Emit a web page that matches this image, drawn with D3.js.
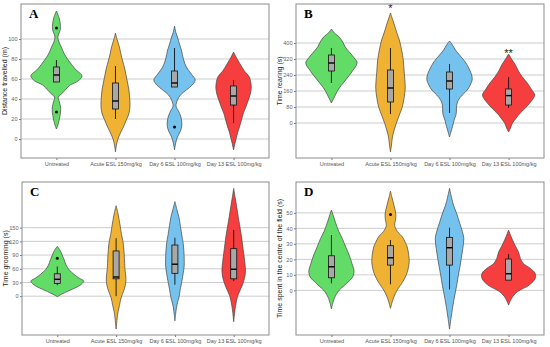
<!DOCTYPE html>
<meta charset="utf-8">
<style>
body { margin: 0; background: #fff; }
text { font-family: "Liberation Sans", Arial, sans-serif; }
.grid line { stroke: #cdcdcd; stroke-width: 1px; }
.frame { fill: none; stroke: #8c8c8c; stroke-width: 1px; }
.violin { stroke: #444; stroke-width: 0.7px; }
.box { fill: #a8a8a8; stroke: #111; stroke-width: 0.8px; }
</style>
<svg width="550" height="347"></svg>
<script src="https://d3js.org/d3.v7.min.js"></script>
<script>

var categories = ["Untreated", "Acute ESL 150mg/kg", "Day 6 ESL 100mg/kg", "Day 13 ESL 100mg/kg"];
var colors = ["#62dc66", "#f0b232", "#76c2ee", "#f63e3e"];

// violin outlines: [value, density]
var violinsA = [
  [[128,0],[120,3],[110,4],[102,1.5],[96,3],[92,5],[85,8],[79,12],[70,19],[63,26],[58,22],[54,14],[48,8],[44,4],[42,1.8],[37,3],[32,4.2],[27,4.2],[20,3],[14,1.5],[10,0]],
  [[106,0],[100,1.5],[92,4],[85,5.5],[79,7],[70,9.5],[60,11.5],[50,13.5],[40,14.5],[32,14.7],[25,13.5],[19,11],[12,8],[6,5],[0,2.5],[-6,1],[-13,0]],
  [[113,0],[106,1.5],[102,3],[95,5],[89,7],[80,9],[72,12],[65,17],[59,21],[54,18],[49,12],[44,6],[39,3],[33,1.5],[28,4],[22,6.5],[14,7.5],[8,6],[2,3],[-4,1.2],[-11,0]],
  [[87,0],[82,2.5],[76,6],[68,11],[62,16],[52,18],[45,17],[39,15],[32,12.5],[26,10],[19,8],[12,6],[6,4],[2,3],[-4,1.5],[-11,0]]
];
var violinsB = [
  [[470,0],[450,3],[430,8],[400,12],[380,14],[350,19],[320,24],[305,26],[285,25],[265,22],[250,20],[225,16],[200,12],[175,8],[150,5],[125,2.5],[100,0]],
  [[550,0],[520,2],[490,4],[450,6.5],[415,9],[360,11.5],[315,13],[250,14],[180,15],[130,14],[80,12],[40,9],[0,6],[-40,3.5],[-70,2],[-110,1],[-145,0]],
  [[410,0],[390,3],[365,6],[335,11],[305,16],[270,20],[240,22.5],[215,23],[190,21],[165,18],[140,13],[115,9],[95,7.5],[80,7],[60,7],[40,6.5],[20,5],[0,4],[-35,2],[-70,0]],
  [[345,0],[320,3],[290,7],[260,10],[230,14],[200,19],[170,23],[140,26.5],[115,24],[80,18],[60,14],[40,10],[20,7],[0,4],[-25,2],[-45,0]]
];
var violinsC = [
  [[109,0],[100,3],[90,5],[80,7],[68,9],[58,12],[47,17.5],[40,22],[33,27],[27,25],[21,21],[15,15],[10,10],[5,5],[-1,0]],
  [[198,0],[180,2],[156,4],[135,5.5],[120,7],[100,8],[83,8.5],[60,9],[40,10],[25,9.5],[10,7.5],[-4,5],[-20,3.5],[-34,2],[-50,1],[-72,0]],
  [[207,0],[190,2],[174,4],[155,5.5],[134,7],[115,8.5],[98,9.2],[80,9.5],[68,9.5],[50,8.5],[32,7],[15,5.5],[-4,4],[-15,2.5],[-26,1.5],[-40,0.7],[-54,0]],
  [[236,0],[215,1.5],[196,3],[175,4.5],[156,6],[130,8],[105,9.5],[80,11],[54,12],[35,10.5],[15,7],[0,4],[-20,2],[-35,1],[-56,0]]
];
var violinsD = [
  [[51.8,0],[48,2],[44,4],[38,7.5],[33.5,11],[28,14.5],[22.8,18],[17,21],[12,23],[8,21],[5.5,17],[2.5,12],[0.2,8],[-2.5,5],[-5,3],[-8,1.5],[-12,0]],
  [[64,0],[60,1.5],[55,3.5],[49,5.5],[45,5],[42,4.2],[38,7],[34.6,12],[31,15],[28,17],[23,18.5],[18.5,19],[14,18],[9.9,16],[5,12],[1.3,8],[-2,5],[-5,3],[-8,1.5],[-11.6,0]],
  [[65.8,0],[60,2],[55,4],[50,7],[44,10],[38,13],[33.5,14.5],[27,13.5],[20.6,12],[15,10.5],[9.9,9],[4,7.5],[-1,6],[-6,4.5],[-11.6,3],[-18,1.5],[-25,0]],
  [[38.9,0],[35.5,2],[32.5,4],[28.5,7],[24.9,10],[20.6,12],[17.4,15],[14.2,22],[11,27],[7.7,27],[3.4,21],[-0.9,9],[-5.2,3],[-9.5,0]]
];

// boxplot stats: [lower whisker, q1, median, q3, upper whisker]
var boxesA = [[57,57,64,72,79],[20,30,38,56,73],[52,52,56,68,91],[16,34,43,53,59]];
var boxesB = [[200,260,300,340,375],[45,105,175,265,375],[50,170,210,255,295],[75,90,137,170,230]];
var boxesC = [[24,28,37,49,65],[0,38,42,99,127],[25,50,70,112,128],[33,38,59,104,145]];
var boxesD = [[4.5,8.1,15.2,22.3,35.7],[3.9,16.3,21,28.8,32.5],[0.6,16.3,27.5,34.2,40.4],[6.6,6.6,10.7,20.2,23.4]];

var outliersA = [[111,27],[],[12],[]];
var outliersB = [[],[],[],[]];
var outliersC = [[83],[],[],[]];
var outliersD = [[],[49],[],[]];

var ticksA = [0,20,40,60,80,100];
var ticksB = [0,80,160,240,320,400];
var ticksC = [0,30,60,90,120,150];
var ticksD = [0,10,20,30,40,50];

var signifB = ["", "*", "", "**"];
var signifPosB = [0, 575, 0, 350];

var svg = d3.select("svg");

var panels = [
  {letter: "A", title: "Distance travelled (m)", box: [21,4,269,158], domain: [-19,135], ticks: ticksA, violins: violinsA, boxes: boxesA, outliers: outliersA},
  {letter: "B", title: "Time rearing (s)", box: [296,4,544,158], domain: [-175,595], ticks: ticksB, violins: violinsB, boxes: boxesB, outliers: outliersB, signif: signifB, signifPos: signifPosB},
  {letter: "C", title: "Time grooming (s)", box: [22,182,269,335], domain: [-85,250], ticks: ticksC, violins: violinsC, boxes: boxesC, outliers: outliersC},
  {letter: "D", title: "Time spent in the centre of the field (s)", box: [296,182,544,335], domain: [-28.8,69.9], ticks: ticksD, violins: violinsD, boxes: boxesD, outliers: outliersD}
];

panels.forEach(function(p) {
  var x0 = p.box[0], y0 = p.box[1], x1 = p.box[2], y1 = p.box[3];
  var g = svg.append("g");

  var x = d3.scalePoint().domain(categories).range([x0, x1]).padding(0.6);
  var y = d3.scaleLinear().domain(p.domain).range([y1, y0]);
  var w = d3.scaleLinear().domain([0, 30]).range([0, x.step() * 0.5]);

  // gridlines
  g.append("g").attr("class", "grid")
    .selectAll("line").data(p.ticks).enter().append("line")
      .attr("x1", x0).attr("x2", x1)
      .attr("y1", function(d) { return y(d); })
      .attr("y2", function(d) { return y(d); });

  // y axis
  var yAxis = g.append("g")
      .attr("transform", "translate(" + x0 + ",0)")
      .call(d3.axisLeft(y).tickValues(p.ticks).tickSize(2).tickPadding(1.5));
  yAxis.select(".domain").remove();
  yAxis.selectAll("line").attr("stroke", "#777");
  yAxis.selectAll("text").attr("fill", "#666").style("font-size", "5.6px");

  // x axis
  var xAxis = g.append("g")
      .attr("transform", "translate(0," + y1 + ")")
      .call(d3.axisBottom(x).tickSize(2).tickPadding(2.5));
  xAxis.select(".domain").remove();
  xAxis.selectAll("line").attr("stroke", "#777");
  xAxis.selectAll("text").attr("fill", "#555").style("font-size", "5.5px");

  var area = d3.area()
      .y(function(d) { return y(d[0]); })
      .curve(d3.curveCatmullRom);

  categories.forEach(function(c, i) {
    var cx = x(c);
    area.x0(function(d) { return cx - w(d[1]); })
        .x1(function(d) { return cx + w(d[1]); });
    g.append("path")
      .attr("class", "violin")
      .attr("d", area(p.violins[i]))
      .attr("fill", colors[i]);

    var b = p.boxes[i], bw = 3;
    g.append("line")
      .attr("x1", cx).attr("x2", cx)
      .attr("y1", y(b[0])).attr("y2", y(b[4]))
      .attr("stroke", "#111").attr("stroke-width", 0.9);
    g.append("rect")
      .attr("class", "box")
      .attr("x", cx - bw).attr("width", bw * 2)
      .attr("y", y(b[3])).attr("height", y(b[1]) - y(b[3]));
    g.append("line")
      .attr("x1", cx - bw).attr("x2", cx + bw)
      .attr("y1", y(b[2])).attr("y2", y(b[2]))
      .attr("stroke", "#000").attr("stroke-width", 1.4);

    g.selectAll(null).data(p.outliers[i]).enter().append("circle")
      .attr("cx", cx).attr("cy", function(d) { return y(d); })
      .attr("r", 1.5).attr("fill", "#000");
  });

  if (p.signif) {
    g.selectAll(null).data(categories).enter().append("text")
      .attr("x", function(d) { return x(d); })
      .attr("y", function(d, i) { return y(p.signifPos[i]) + 4; })
      .attr("text-anchor", "middle")
      .style("font-size", "11px")
      .attr("fill", "#222")
      .text(function(d, i) { return p.signif[i]; });
  }

  g.append("rect").attr("class", "frame")
    .attr("x", x0).attr("y", y0)
    .attr("width", x1 - x0).attr("height", y1 - y0);

  g.append("text")
    .attr("x", x0 + 8).attr("y", y0 + 14)
    .style("font-family", "'Liberation Serif', 'Times New Roman', serif")
    .style("font-weight", "bold")
    .style("font-size", "13px")
    .text(p.letter);

  g.append("text")
    .attr("transform", "translate(" + (x0 - 14) + "," + ((y0 + y1) / 2) + ") rotate(-90)")
    .attr("text-anchor", "middle")
    .style("font-size", "7px")
    .attr("fill", "#222")
    .text(p.title);
});

</script>
